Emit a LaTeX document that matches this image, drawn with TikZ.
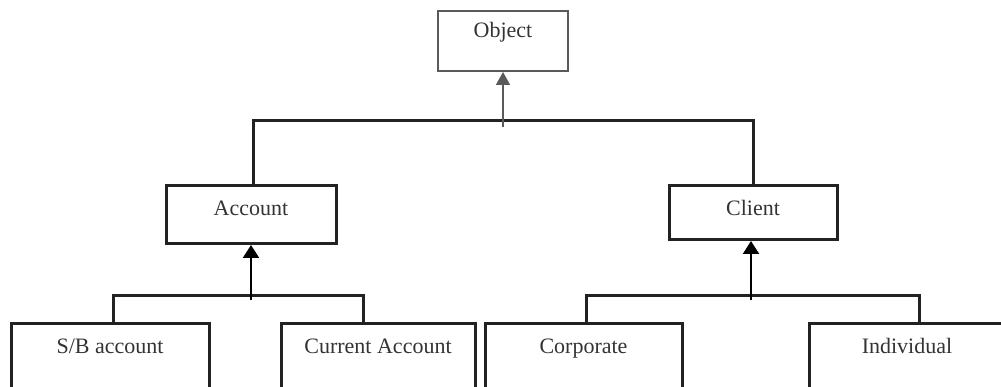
\documentclass[tikz,border=0pt]{standalone}
\usepackage{fontspec}
\setmainfont{Liberation Serif}
\usetikzlibrary{arrows.meta}
\definecolor{ink}{HTML}{222222}
\definecolor{greyink}{HTML}{5A5A5A}
\definecolor{txt}{HTML}{333333}
\begin{document}
\begin{tikzpicture}[x=1pt,y=-1pt,
  box/.style={draw=ink, line width=3pt, rectangle, inner xsep=0pt, inner ysep=0pt,
    text height=30pt, anchor=north, font=\fontsize{22}{26}\selectfont, text=txt},
  objbox/.style={box, draw=greyink, line width=2pt},
  conn/.style={draw=ink, line width=3pt},
  uparrow/.style={draw=black, line width=2.2pt, -{Triangle[width=16pt,length=13pt]}},
  greyarrow/.style={draw=greyink, line width=1.6pt, -{Triangle[width=14pt,length=13pt]}}]
\useasboundingbox (0,0) rectangle (1001,387);
\clip (0,0) rectangle (1001,387);
% boxes
\node[objbox, minimum width=130pt, text height=27pt, text depth=33pt] (object) at (503,10) {Object};
\node[box, minimum width=170pt, text depth=28pt] (account) at (251,184) {Account};
\node[box, minimum width=168pt, text depth=24pt] (client) at (753,184) {Client};
\node[box, minimum width=198pt, text depth=90pt] (sb) at (110,322) {S/B account};
\node[box, minimum width=194pt, text depth=90pt] (cur) at (378,322) {Current Account};
\node[box, minimum width=197pt, text depth=90pt] (corp) at (583.5,322) {Corporate};
\node[box, minimum width=196pt, text depth=90pt] (indiv) at (907,322) {Individual};
% top level
\coordinate (topbar) at (503,121);
\coordinate (objfoot) at (503,127);
\draw[conn] ([xshift=2pt]account.north) |- (topbar) -| (client.north);
\draw[greyarrow] (objfoot) -- (object.south);
% account children
\coordinate (accbar) at (251,296);
\coordinate (accfoot) at (251,300);
\draw[conn] ([xshift=3pt]sb.north) |- (accbar) -| ([xshift=-15pt]cur.north);
\draw[uparrow] (accfoot) -- (account.south);
% client children
\coordinate (clibar) at (751,296);
\coordinate (clifoot) at (751,300);
\draw[conn] ([xshift=2.5pt]corp.north) |- (clibar) -| ([xshift=12pt]indiv.north);
\draw[uparrow] (clifoot) -- ([xshift=-2pt]client.south);
\end{tikzpicture}
\end{document}
